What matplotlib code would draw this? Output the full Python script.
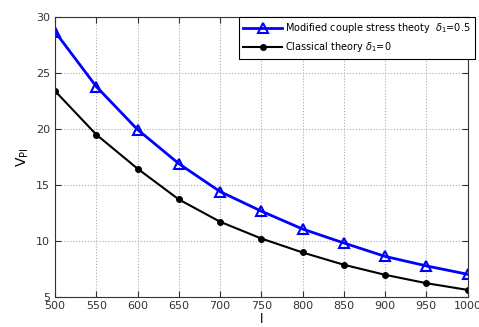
import matplotlib
matplotlib.use("Agg")
import matplotlib.pyplot as plt

# lengde l
l_verdier = [500, 550, 600, 650, 700, 750, 800, 850, 900, 950, 1000]
v_modified = [28.7, 23.8, 19.95, 16.9, 14.4, 12.65, 11.05, 9.8, 8.6, 7.75, 7.0]
v_classical = [23.4, 19.5, 16.45, 13.7, 11.7, 10.2, 8.95, 7.85, 6.95, 6.2, 5.6]

plt.rcParams['font.family'] = ['DejaVu Sans']

fig = plt.figure(figsize=(4.79, 3.27), dpi=100)
ax = fig.add_axes([0.115, 0.093, 0.861, 0.854])

ax.plot(l_verdier, v_modified, color='blue', lw=2, marker='^', markersize=7,
        markerfacecolor='none', markeredgewidth=1.5,
        label=r'Modified couple stress theoty  $\delta_1$=0.5')
ax.plot(l_verdier, v_classical, color='black', lw=1.5, marker='o', markersize=4,
        label=r'Classical theory $\delta_1$=0')

ax.set_xlim(500, 1000)
ax.set_ylim(5, 30)
ax.set_xticks(range(500, 1001, 50))
ax.set_yticks(range(5, 31, 5))
ax.grid(True, linestyle=':', color='#aaaaaa', linewidth=0.8)
ax.tick_params(direction='in', labelsize=8, colors='#333333', length=4,
               top=True, right=True)
for s in ax.spines.values():
    s.set_color('#333333')

ax.set_xlabel('l', fontsize=9, labelpad=1)
ax.set_ylabel(r'V$_{\mathrm{PI}}$', fontsize=10, labelpad=4)

leg = ax.legend(loc='upper right', bbox_to_anchor=(0.992, 0.948),
                bbox_transform=fig.transFigure, fontsize=7, fancybox=False,
                edgecolor='black', framealpha=1, borderpad=0.45,
                handlelength=4.0, handletextpad=0.3, labelspacing=0.5,
                borderaxespad=0)
leg.get_frame().set_linewidth(0.8)

fig.savefig('out.png', dpi=100)
